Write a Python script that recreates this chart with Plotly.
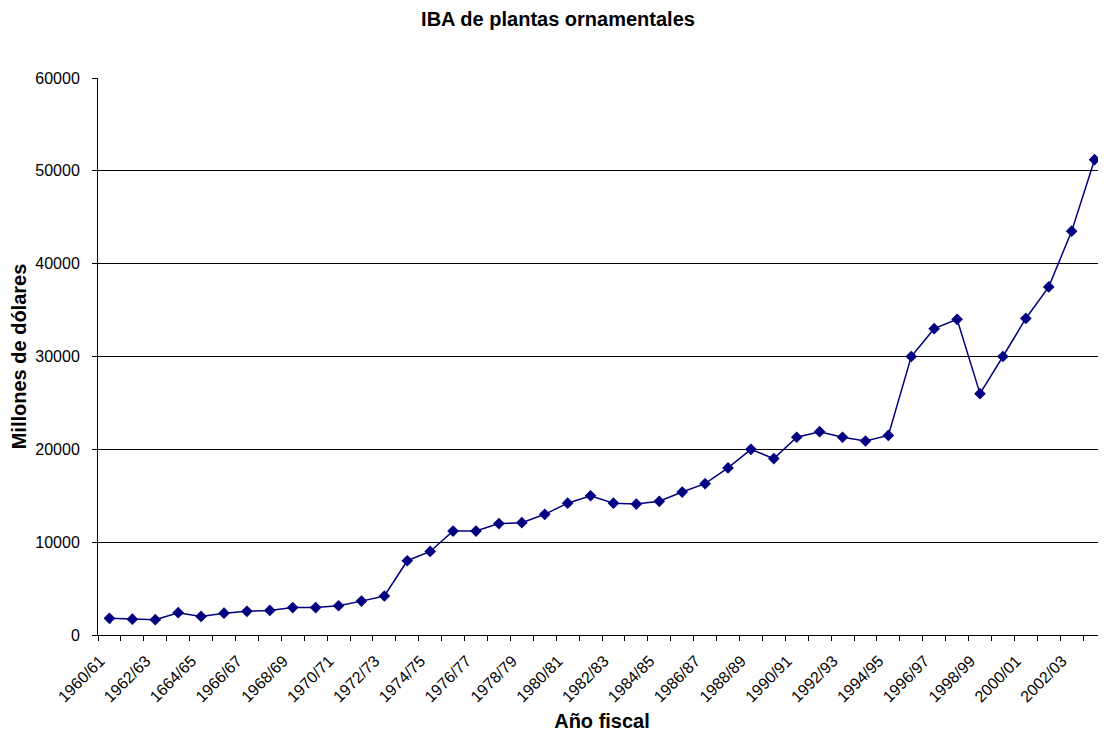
import plotly.graph_objects as go

# fiscal years, in order (the "1664/65" typo is in the original chart)
years = [
    "1960/61", "1961/62", "1962/63", "1963/64", "1664/65", "1965/66",
    "1966/67", "1967/68", "1968/69", "1969/70", "1970/71", "1971/72",
    "1972/73", "1973/74", "1974/75", "1975/76", "1976/77", "1977/78",
    "1978/79", "1979/80", "1980/81", "1981/82", "1982/83", "1983/84",
    "1984/85", "1985/86", "1986/87", "1987/88", "1988/89", "1989/90",
    "1990/91", "1991/92", "1992/93", "1993/94", "1994/95", "1995/96",
    "1996/97", "1997/98", "1998/99", "1999/00", "2000/01", "2001/02",
    "2002/03", "2003/04",
]

# millones de dolares
iba = [
    1800, 1700, 1650, 2400, 2000, 2350,
    2550, 2650, 2950, 2950, 3150, 3650,
    4200, 8000, 9000, 11200, 11200, 12000,
    12100, 13000, 14200, 15000, 14200, 14100,
    14400, 15400, 16300, 18000, 20000, 19000,
    21300, 21900, 21300, 20900, 21500, 30000,
    33000, 34000, 26000, 30000, 34100, 37500,
    43500, 51200,
]

# only every other year gets a label; the trailing no-break spaces push the
# slanted labels a little further away from the axis, like Excel does
PAD = "\u00a0" * 3
tick_text = [y + PAD if i % 2 == 0 else "" for i, y in enumerate(years)]

y_ticks = [0, 10000, 20000, 30000, 40000, 50000, 60000]
y_tick_text = [str(v) for v in y_ticks]

FONT = "Liberation Sans, Arial, sans-serif"
NAVY = "#000080"

# the page body adds an 8px margin; keep the height inside the window so
# no scrollbar shows up, the width may run to the right edge
W, H = 1098, 724

fig = go.Figure()
fig.add_trace(
    go.Scatter(
        x=years,
        y=iba,
        mode="lines+markers",
        line=dict(color=NAVY, width=1.5),
        marker=dict(symbol="diamond", size=9, color=NAVY),
        cliponaxis=False,
        showlegend=False,
    )
)

fig.update_layout(
    width=W,
    height=H,
    margin=dict(l=90, r=0, t=70, b=97),
    paper_bgcolor="white",
    plot_bgcolor="white",
    font=dict(family=FONT, color="black", size=16),
    title=dict(
        text="<b>IBA de plantas ornamentales</b>",
        x=550 / W,
        xref="container",
        xanchor="center",
        y=1 - 11 / H,
        yanchor="middle",
        font=dict(size=20, family=FONT, color="black"),
    ),
)

fig.update_xaxes(
    type="category",
    tickmode="array",
    tickvals=years,
    ticktext=tick_text,
    tickangle=-45,
    tickson="boundaries",
    ticks="outside",
    ticklen=5,
    tickcolor="black",
    showline=True,
    linecolor="black",
    linewidth=1,
    showgrid=False,
    zeroline=False,
    automargin=False,
    range=[-0.5, len(years) - 0.5],
    tickfont=dict(size=16),
    title=dict(text="<b>Año fiscal</b>", font=dict(size=20), standoff=21),
)

fig.update_yaxes(
    range=[0, 60000],
    tickmode="array",
    tickvals=y_ticks,
    ticktext=y_tick_text,
    ticks="outside",
    ticklen=5,
    tickcolor="black",
    showline=True,
    linecolor="black",
    linewidth=1,
    showgrid=True,
    gridcolor="black",
    gridwidth=1,
    zeroline=False,
    automargin=False,
    tickfont=dict(size=16),
    ticklabelstandoff=9,
    title=dict(text="<b>Millones de dólares</b>", font=dict(size=20), standoff=4),
)

fig.write_html("out.html")
